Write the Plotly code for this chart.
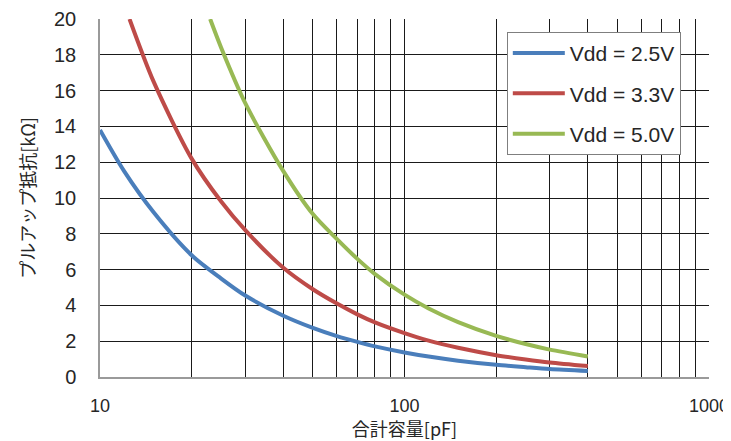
import plotly.graph_objects as go

# Capacitance [pF] and pull-up resistance [kΩ]
cap_25 = [10, 12, 15, 20, 25, 30, 40, 50, 60, 70, 80, 100, 120, 150, 200, 250, 300, 400]
res_25 = [13.8, 11.5, 9.2, 6.8, 5.5, 4.55, 3.42, 2.74, 2.28, 1.96, 1.71, 1.37, 1.14, 0.91, 0.68, 0.55, 0.45, 0.34]

cap_33 = [12.5, 15, 20, 25, 30, 40, 50, 60, 70, 80, 100, 120, 150, 200, 250, 300, 400]
res_33 = [20.0, 16.5, 12.2, 9.8, 8.2, 6.1, 4.9, 4.1, 3.5, 3.05, 2.45, 2.03, 1.63, 1.22, 0.98, 0.81, 0.61]

cap_50 = [23, 25, 30, 40, 50, 60, 70, 80, 100, 120, 150, 200, 250, 300, 400]
res_50 = [20.0, 18.4, 15.3, 11.5, 9.1, 7.7, 6.6, 5.75, 4.6, 3.83, 3.07, 2.3, 1.84, 1.53, 1.15]

series_names = ["Vdd = 2.5V", "Vdd = 3.3V", "Vdd = 5.0V"]
series_colors = ["#4A7EBB", "#BE4B48", "#98B954"]

x_tickvals = [10, 20, 30, 40, 50, 60, 70, 80, 90,
              100, 200, 300, 400, 500, 600, 700, 800, 900, 1000]
x_ticktext = ["10"] + [""] * 8 + ["100"] + [""] * 8 + ["1000"]
y_tickvals = [0, 2, 4, 6, 8, 10, 12, 14, 16, 18, 20]

fig = go.Figure()
for xs, ys, name, color in zip([cap_25, cap_33, cap_50], [res_25, res_33, res_50],
                               series_names, series_colors):
    fig.add_trace(go.Scatter(
        x=xs, y=ys, mode="lines", name=name, legendgroup=name,
        line=dict(color=color, width=4, shape="spline", smoothing=0.8),
        cliponaxis=True,
    ))

font_main = "Liberation Sans, Arial, Noto Sans CJK JP, sans-serif"
font_cjk = "Noto Sans CJK JP, Liberation Sans, sans-serif"

# the page body adds an 8px offset, so the figure is 8px smaller in each direction
fig.update_layout(
    width=723, height=433,
    margin=dict(l=92, r=22, t=11, b=64, autoexpand=False),
    paper_bgcolor="white", plot_bgcolor="white",
    font=dict(family=font_main, color="#262626"),
    showlegend=True,
    legend=dict(
        x=0.668, y=0.964, xanchor="left", yanchor="top",
        bgcolor="white", bordercolor="#7f7f7f", borderwidth=1,
        font=dict(size=21, color="#262626"),
        tracegroupgap=10, traceorder="grouped",
        itemwidth=52,
    ),
    xaxis=dict(
        type="log", range=[1, 3], automargin=False,
        tickmode="array", tickvals=x_tickvals, ticktext=x_ticktext,
        showgrid=True, gridcolor="#1a1a1a", gridwidth=1,
        showline=True, linecolor="#9a9a9a", linewidth=1.5,
        ticks="", ticklabelstandoff=12,
        tickfont=dict(size=18, color="#262626"),
        title=dict(text="合計容量[pF]", font=dict(size=18, color="#262626", family=font_cjk),
                   standoff=8),
        zeroline=False,
    ),
    yaxis=dict(
        range=[0, 20], automargin=False,
        tickmode="array", tickvals=y_tickvals,
        showgrid=True, gridcolor="#1a1a1a", gridwidth=1,
        showline=True, linecolor="#9a9a9a", linewidth=1.5,
        ticks="", ticklabelstandoff=18,
        tickfont=dict(size=20, color="#262626"),
        title=dict(text="プルアップ抵抗[kΩ]", font=dict(size=18, color="#262626", family=font_cjk),
                   standoff=14),
        zeroline=False,
    ),
)

fig.write_html("out.html")
